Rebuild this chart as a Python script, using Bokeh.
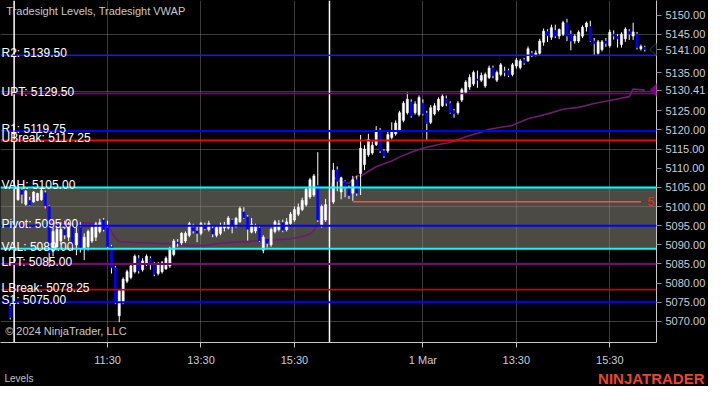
from bokeh.plotting import figure
from bokeh.layouts import column
from bokeh.models import Range1d, FixedTicker, PrintfTickFormatter, Span, Label, PolyAnnotation
from bokeh.embed import file_html
from bokeh.resources import INLINE

# ---------------- data ----------------
prev_open = [5074.0]
prev_high = [5074.5]
prev_low = [5070.5]
prev_close = [5071.0]

day1_open = [5101.8,5104.3,5100.6,5101.6,5101.2,5101.6,5101.8,5103.6,5100.0,5088.3,
 5089.5,5091.0,5094.0,5092.0,5095.0,5090.0,5094.5,5089.0,5089.5,5091.0,
 5092.0,5093.5,5096.5,5094.5,5089.5,5084.0,5071.5,5075.0,5080.5,5081.5,
 5083.0,5086.5,5083.5,5085.0,5086.5,5085.0,5082.5,5083.0,5083.7,5084.5,
 5087.5,5090.7,5090.5,5091.0,5092.5,5094.5,5093.6,5093.0,5095.0,5094.0,
 5094.3,5092.5,5093.0,5094.4,5094.4,5096.5,5094.8,5096.0,5098.6,5097.3,
 5093.3,5093.6,5094.4,5088.6,5091.6,5090.0,5093.5,5094.0,5095.8,5094.0,
 5095.6,5096.5,5098.0,5099.2,5100.5,5102.5,5103.0,5105.5,5095.0,5096.5]
day1_high = [5105.6,5105.0,5104.3,5102.5,5104.0,5103.6,5105.0,5104.2,5100.3,5094.5,
 5095.5,5096.0,5096.3,5096.0,5095.5,5094.5,5096.0,5093.0,5094.0,5095.0,
 5096.0,5096.8,5097.0,5096.3,5090.0,5084.5,5078.5,5081.5,5083.5,5085.0,
 5087.5,5087.3,5086.5,5087.5,5087.0,5085.5,5085.5,5085.8,5087.0,5089.5,
 5091.5,5091.5,5093.3,5093.5,5096.0,5095.5,5094.8,5096.0,5095.8,5096.3,
 5095.0,5095.0,5095.8,5096.0,5097.5,5096.8,5097.3,5100.0,5099.8,5097.8,
 5097.0,5095.5,5095.0,5092.5,5091.8,5094.5,5096.5,5096.5,5096.6,5097.0,
 5098.6,5100.0,5100.8,5102.3,5105.0,5107.5,5108.5,5114.2,5100.5,5102.0]
day1_low = [5101.5,5100.8,5100.2,5100.2,5101.0,5101.4,5101.5,5099.5,5084.2,5087.0,
 5088.5,5090.0,5091.5,5091.0,5088.5,5087.3,5088.0,5086.0,5088.5,5090.5,
 5091.0,5093.0,5093.5,5089.0,5082.5,5074.5,5069.8,5074.5,5080.0,5081.0,
 5082.5,5082.5,5083.0,5084.5,5083.5,5081.8,5082.0,5082.5,5083.5,5084.0,
 5087.0,5089.5,5090.0,5090.5,5092.0,5093.0,5090.7,5092.5,5093.8,5093.5,
 5092.0,5092.0,5092.5,5093.5,5094.0,5093.0,5094.5,5095.8,5096.8,5091.1,
 5093.0,5093.0,5090.8,5087.8,5089.3,5089.5,5093.0,5093.5,5093.3,5093.5,
 5095.0,5096.0,5097.5,5098.8,5100.0,5102.0,5102.5,5096.0,5094.5,5096.0]
day1_close = [5105.0,5103.2,5104.0,5100.4,5103.8,5103.4,5104.2,5100.2,5088.0,5093.5,
 5094.0,5094.0,5092.6,5095.5,5089.3,5093.0,5089.0,5092.0,5093.5,5094.5,
 5095.5,5095.8,5094.0,5089.5,5084.0,5075.0,5078.0,5081.0,5083.0,5084.5,
 5087.0,5083.2,5085.8,5087.0,5084.8,5082.3,5085.0,5085.3,5086.5,5089.0,
 5091.0,5090.4,5093.0,5093.0,5095.5,5093.6,5093.0,5095.6,5094.2,5095.6,
 5092.8,5094.5,5095.0,5095.2,5097.0,5095.0,5096.9,5099.5,5097.1,5094.1,
 5095.4,5094.9,5091.1,5092.0,5090.4,5094.0,5096.0,5095.5,5093.8,5096.0,
 5098.0,5099.2,5099.8,5101.6,5104.5,5107.0,5108.0,5096.5,5100.0,5100.5]

day2_open = [5101.2,5109.6,5103.8,5106.6,5104.9,5103.5,5107.0,5108.6,5111.0,5113.5,
 5114.0,5116.2,5119.5,5114.5,5114.5,5118.0,5119.0,5120.0,5122.5,5124.5,
 5127.3,5124.5,5124.0,5127.0,5124.4,5122.0,5124.2,5125.2,5126.3,5128.2,
 5127.0,5125.0,5124.5,5127.8,5129.8,5131.2,5132.0,5133.3,5133.0,5131.5,
 5133.7,5136.2,5133.0,5134.5,5135.3,5135.5,5134.5,5136.7,5136.3,5138.3,
 5138.0,5140.0,5139.6,5140.0,5142.9,5145.8,5144.2,5146.0,5144.5,5145.0,
 5148.0,5145.0,5143.2,5143.2,5144.5,5146.9,5147.0,5143.2,5140.0,5141.0,
 5143.2,5142.0,5145.0,5144.4,5142.3,5143.8,5145.8,5144.5,5145.0,5141.2,
 5141.6]
day2_high = [5111.4,5110.5,5107.8,5106.9,5105.5,5108.0,5108.0,5118.7,5116.0,5119.0,
 5117.0,5121.0,5120.5,5115.0,5119.5,5122.0,5122.5,5125.0,5127.5,5129.8,
 5128.0,5127.5,5129.0,5128.0,5125.0,5126.5,5127.0,5128.5,5129.3,5129.0,
 5127.5,5125.5,5127.5,5131.0,5133.0,5134.5,5135.5,5135.5,5135.0,5135.0,
 5136.8,5136.8,5135.5,5137.5,5136.5,5136.0,5137.5,5138.8,5138.5,5138.8,
 5141.8,5140.6,5140.8,5143.8,5146.5,5146.3,5147.5,5147.5,5146.5,5148.5,
 5149.0,5146.0,5145.0,5146.0,5147.3,5148.3,5148.5,5144.0,5143.5,5143.5,
 5144.0,5146.2,5146.0,5145.0,5145.5,5146.8,5146.3,5148.0,5145.6,5142.3,
 5142.0]
day2_low = [5100.7,5104.0,5101.9,5102.4,5102.0,5101.5,5102.8,5103.0,5109.5,5113.0,
 5113.5,5115.8,5114.0,5112.7,5114.0,5117.5,5118.5,5119.5,5122.0,5124.0,
 5123.2,5124.0,5123.5,5123.8,5117.4,5121.5,5123.8,5124.8,5126.0,5126.2,
 5124.2,5123.2,5124.0,5127.3,5129.5,5130.5,5131.5,5131.0,5132.5,5131.0,
 5133.3,5133.5,5132.5,5134.0,5134.0,5133.8,5134.0,5136.0,5135.8,5137.0,
 5137.8,5139.0,5139.2,5139.6,5142.0,5143.0,5143.5,5144.0,5143.7,5144.5,
 5143.2,5140.8,5142.5,5142.7,5144.0,5145.7,5143.0,5139.5,5139.3,5140.5,
 5141.7,5141.5,5143.6,5141.5,5141.5,5143.0,5143.5,5143.5,5141.0,5140.7,
 5140.5]
day2_close = [5109.5,5106.6,5107.5,5104.9,5102.9,5107.0,5103.5,5115.2,5115.0,5117.5,
 5116.0,5119.9,5114.5,5113.2,5118.8,5119.5,5121.8,5124.5,5127.0,5128.0,
 5123.7,5126.8,5128.5,5124.2,5121.7,5125.8,5126.3,5128.0,5128.8,5127.0,
 5124.5,5124.2,5127.0,5130.5,5132.5,5133.7,5135.0,5133.0,5134.2,5134.5,
 5136.2,5134.2,5135.0,5137.0,5135.0,5134.2,5137.0,5138.2,5138.0,5137.5,
 5141.2,5139.5,5140.1,5143.2,5145.8,5144.6,5146.7,5144.5,5146.2,5148.0,
 5144.5,5143.2,5144.5,5145.5,5146.8,5147.9,5143.2,5142.5,5143.0,5143.0,
 5142.6,5145.5,5144.5,5143.8,5145.0,5146.3,5145.0,5145.6,5141.5,5141.8,
 5141.0]

# VWAP read at these bar numbers
vwap_bar = [0,1,2,4,6,7,8,10,15,20,23,24,25,26,30,35,40,44,48,52,56,62,66,70,73,75,76,77,78,79,
            81,82,83,85,87,88,90,92,94,96,98,101,104,108,111,115,119,121,127,131,136,140,144,148,152,157,158,161]
vwap_value = [5103.5,5102.5,5102.0,5102.0,5101.9,5101.6,5096.5,5096.0,5095.8,5095.6,5095.2,5093.5,5091.8,5090.8,
              5090.6,5090.4,5090.2,5089.8,5089.8,5090.4,5090.7,5091.1,5091.3,5091.6,5092.1,5092.8,5093.8,5095.6,
              5094.9,5094.8,
              5107.9,5106.9,5106.4,5106.1,5108.1,5107.9,5109.2,5110.4,5111.2,5111.9,5112.9,5114.2,5115.2,5116.2,
              5116.7,5118.2,5119.4,5120.2,5121.2,5122.9,5124.2,5125.4,5125.9,5126.9,5127.7,5128.7,5130.7,5130.41]

level_names = ["R2", "UPT", "R1", "UBreak", "VAH", "Pivot", "VAL", "LPT", "LBreak", "S1"]
level_values = [5139.50, 5129.50, 5119.75, 5117.25, 5105.00, 5095.00, 5089.00, 5085.00, 5078.25, 5075.00]
level_colors = ["#1c1cc8", "#800080", "#0000ff", "#ff0000", "#00ffff", "#0000ff", "#00ffff", "#800080", "#d00000", "#0000ff"]
level_widths = [1.5, 1.5, 2, 2, 2, 2, 2, 2, 1.5, 2]

drawn_line_start_bar = 86
drawn_line_end_bar = 160
drawn_line_price = 5101.25
drawn_line_text = "5"

x_ticks = [23, 47, 71, 104, 128, 152]
x_labels = ["11:30", "13:30", "15:30", "1 Mar", "13:30", "15:30"]
# 5130.00 and 5140.00 are covered by the last-value markers
y_ticks = [5070, 5075, 5080, 5085, 5090, 5095, 5100, 5105, 5110, 5115, 5120, 5125, 5135, 5145, 5150]
grid_levels = [5070, 5085, 5100, 5115, 5130, 5145]

# ---------------- layout helpers ----------------
n1 = len(day1_open)
slots = [-2] + list(range(0, n1)) + list(range(n1 + 1, n1 + 1 + len(day2_open)))
session_breaks = [-1, n1]
opens = prev_open + day1_open + day2_open
highs = prev_high + day1_high + day2_high
lows = prev_low + day1_low + day2_low
closes = prev_close + day1_close + day2_close
marker_values = [closes[-1], vwap_value[-1]]

FONT = "Liberation Sans"

p = figure(width=708, height=368, output_backend="svg", toolbar_location=None, title=None,
           x_range=Range1d(-4.5, 164), y_range=Range1d(5064.5, 5153.8),
           y_axis_location="right",
           background_fill_color="black", border_fill_color="black",
           min_border_left=0, min_border_top=0, min_border_right=48, min_border_bottom=24)
p.outline_line_color = None
p.frame_align = False

# axes
yax = p.yaxis[0]
yax.ticker = FixedTicker(ticks=sorted(y_ticks + marker_values))
yax.formatter = PrintfTickFormatter(format="%.2f")
yax.major_label_text_color = "#c8ced8"
yax.major_label_text_font = FONT
yax.major_label_text_font_size = "11px"
yax.axis_line_color = "#c8c8c8"
yax.major_tick_line_color = "#8c8c8c"
yax.major_tick_in = 0
yax.major_tick_out = 5
yax.minor_tick_line_color = None
yax.major_label_standoff = 4

xax = p.xaxis[0]
xax.ticker = FixedTicker(ticks=x_ticks)
xax.major_label_overrides = {t: l for t, l in zip(x_ticks, x_labels)}
xax.major_label_text_color = "#c8ced8"
xax.major_label_text_font = FONT
xax.major_label_text_font_size = "11px"
xax.axis_line_color = "#c8c8c8"
xax.major_tick_line_color = "#c8c8c8"
xax.major_tick_in = 0
xax.major_tick_out = 5
xax.minor_tick_line_color = None
xax.major_label_standoff = 6

p.xgrid.grid_line_color = "#8c8c8c"
p.xgrid.grid_line_alpha = 0.42
p.ygrid.ticker = FixedTicker(ticks=grid_levels)
p.ygrid.grid_line_color = "#8c8c8c"
p.ygrid.grid_line_alpha = 0.42

# value area band (below grid)
vah = level_values[level_names.index("VAH")]
val = level_values[level_names.index("VAL")]
p.quad(left=[-10], right=[180], bottom=[val], top=[vah], fill_color="#4b4a43", line_color=None, level="image")

# VWAP
p.line(vwap_bar, vwap_value, line_color="#6e1c6e", line_width=1.6)

# candles
p.segment(x0=slots, y0=lows, x1=slots, y1=highs, line_color="white", line_width=1)
ux = [s for s, o, c in zip(slots, opens, closes) if c >= o]
uo = [o for o, c in zip(opens, closes) if c >= o]
uc = [c for o, c in zip(opens, closes) if c >= o]
dx = [s for s, o, c in zip(slots, opens, closes) if c < o]
do = [o for o, c in zip(opens, closes) if c < o]
dc = [c for o, c in zip(opens, closes) if c < o]
p.vbar(x=ux, bottom=uo, top=uc, width=0.55, fill_color="white", line_color="white", line_width=0.6)
p.vbar(x=dx, bottom=dc, top=do, width=0.55, fill_color="#0000ff", line_color="#0000ff", line_width=0.6)

# drawn line with label
p.segment(x0=[drawn_line_start_bar], x1=[drawn_line_end_bar], y0=[drawn_line_price], y1=[drawn_line_price],
          line_color="#e05a5a", line_width=1.5)
p.add_layout(Label(x=drawn_line_end_bar + 1.6, y=drawn_line_price, text=drawn_line_text, text_color="#ff2020",
                   text_font=FONT, text_font_size="12px", text_baseline="middle", text_align="left"))

# session break lines
for sb in session_breaks:
    p.add_layout(Span(location=sb, dimension="height", line_color="white", line_width=1.5))

# level lines and labels
for name, v, c, w in zip(level_names, level_values, level_colors, level_widths):
    p.add_layout(Span(location=v, dimension="width", line_color=c, line_width=w))
    p.add_layout(Label(x=-4.25, y=v, text=f"{name}: {v:.2f}", text_color="white", text_font=FONT,
                       text_font_size="12px", text_baseline="alphabetic", y_offset=2))

# last-value marker tips (at the frame edge)
for mv, fc, lc in zip(marker_values, ["black", "#800080"], ["#c8c8c8", "#800080"]):
    h = 1.85
    p.add_layout(PolyAnnotation(xs=[162.3, 164.2, 164.2], ys=[mv, mv + h, mv - h],
                                fill_color=fc, fill_alpha=1.0, line_color=lc, line_width=1))

# texts
p.add_layout(Label(x=-3.0, y=5151.0, text="Tradesight Levels, Tradesight VWAP", text_color="#c8c8c8",
                   text_font=FONT, text_font_size="11px", text_baseline="middle"))
p.add_layout(Label(x=-3.3, y=5067.6, text="\u00a9 2024 NinjaTrader, LLC", text_color="#c8c8c8",
                   text_font=FONT, text_font_size="11px", text_baseline="middle"))

# bottom strip with panel name and logo
s = figure(width=708, height=18, output_backend="svg", toolbar_location=None, title=None,
           x_range=Range1d(0, 708), y_range=Range1d(0, 18), x_axis_type=None, y_axis_type=None,
           background_fill_color="black", border_fill_color="black",
           min_border_left=0, min_border_top=0, min_border_right=0, min_border_bottom=0)
s.outline_line_color = None
s.frame_align = False
s.xgrid.visible = False
s.ygrid.visible = False
s.add_layout(Label(x=4, y=8, text="Levels", text_color="#c0c0c0",
                   text_font=FONT, text_font_size="10px", text_baseline="middle"))
s.add_layout(Label(x=704, y=8, text="NINJATRADER", text_color="#e8472d", text_font=FONT,
                   text_font_size="15px", text_font_style="bold", text_baseline="middle", text_align="right"))

layout = column(p, s, spacing=0, styles={"background-color": "black"})
open("out.html", "w").write(file_html(layout, INLINE))
